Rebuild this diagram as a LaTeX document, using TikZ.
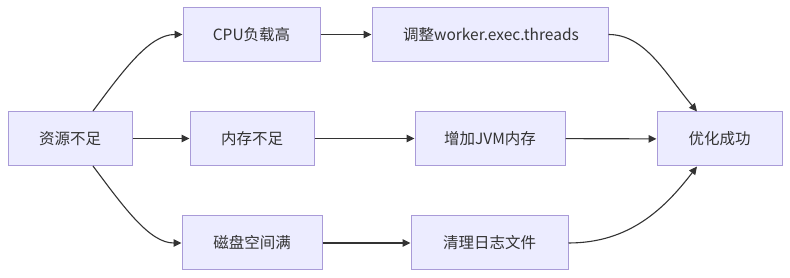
\documentclass[tikz,border=0pt]{standalone}
\usepackage{fontspec}
\setmainfont{Noto Sans CJK SC}
\usetikzlibrary{arrows.meta,positioning}
\definecolor{boxfill}{HTML}{ECECFF}
\definecolor{boxline}{HTML}{A99BD8}
\definecolor{edgecol}{HTML}{333333}
\definecolor{txtcol}{HTML}{333333}
\tikzset{
  box/.style={draw=boxline, fill=boxfill, line width=1pt, minimum height=54pt,
    inner sep=0pt, font=\fontsize{15.5}{18}\selectfont, text=txtcol},
  edge/.style={draw=edgecol, line width=1.1pt, -{Triangle[length=8pt,width=7.5pt]}},
}
\begin{document}
\begin{tikzpicture}[x=1pt,y=1pt]
\useasboundingbox (0,0) rectangle (790,278);
\node[box, minimum width=124pt] (A) at (70,139.5) {资源不足};
\node[box, minimum width=137pt] (B) at (251.5,243.5) {CPU负载高};
\node[box, minimum width=124pt] (C) at (252,139.5) {内存不足};
\node[box, minimum width=140pt] (D) at (252,35) {磁盘空间满};
\node[box, minimum width=236pt] (E) at (490,243.5) {};
\begin{scope}
  \clip (400,220) rectangle (578,267);
  \node[font=\fontsize{15.5}{18}\selectfont, text=txtcol, inner sep=0pt, anchor=west] (Etext) at (403,243.5) {调整worker.exec.threads};
\end{scope}
\node[box, minimum width=150pt] (F) at (490,139.5) {增加JVM内存};
\node[box, minimum width=157pt] (G) at (489.5,35) {清理日志文件};
\node[box, minimum width=125pt] (H) at (719.5,139) {优化成功};

\draw[edge] ([xshift=23pt]A.north) .. controls (125,210) and (150,243.5) .. (B.west);
\draw[edge] (A) -- (C);
\draw[edge] ([xshift=23pt]A.south) .. controls (125,69) and (150,35) .. (D.west);
\draw[edge] (B) -- (E);
\draw[edge] (C) -- (F);
\draw[edge] (D) -- (G);
\draw[edge] (E.east) .. controls (645,243.5) and (665,205) .. ([xshift=-22.5pt]H.north);
\draw[edge] (F) -- (H);
\draw[edge] (G.east) .. controls (630,35) and (665,70) .. ([xshift=-22.5pt]H.south);
\end{tikzpicture}
\end{document}
